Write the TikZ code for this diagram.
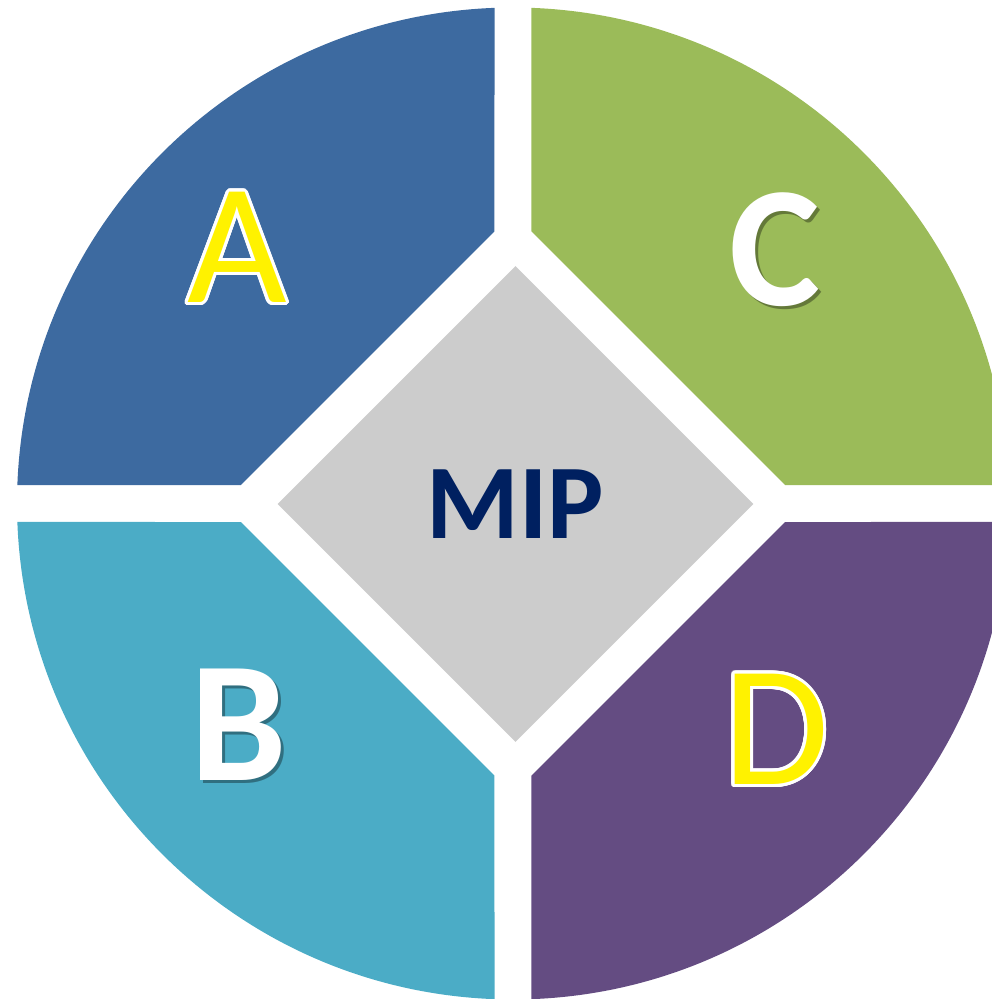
\documentclass[tikz,border=0pt]{standalone}
\usepackage{fontspec}
\setmainfont{Carlito}
\usepackage{contour}
\contourlength{3pt}
\contournumber{32}
\usetikzlibrary{shapes.geometric}
\definecolor{secA}{HTML}{3D6AA0}
\definecolor{secB}{HTML}{4BACC6}
\definecolor{secC}{HTML}{9BBB59}
\definecolor{secD}{HTML}{644C82}
\definecolor{mipgray}{HTML}{CCCCCC}
\definecolor{mipnavy}{HTML}{002060}
\begin{document}
\begin{tikzpicture}[x=1pt,y=1pt,
	letter/.style={font=\fontsize{172}{172}\selectfont,inner sep=0pt},
	boldletter/.style={letter,font=\fontsize{172}{172}\selectfont\bfseries,text=white},
	shade/.style={boldletter,text=black,opacity=0.35}]
\pgfmathsetmacro{\R}{496}
\pgfmathsetmacro{\h}{18.5}
\pgfmathsetmacro{\d}{290.5}
\pgfmathsetmacro{\al}{asin(\h/\R)}

\useasboundingbox (-513,-495.5) rectangle (479,503.5);
\clip (-513,-495.5) rectangle (479,503.5);

\foreach \ang/\col in {0/secC,90/secA,180/secB,270/secD}
{
	\begin{scope}[rotate=\ang]
	\fill[\col] (\d-\h,\h) -- (\al:\R) arc[start angle=\al,end angle=90-\al,radius=\R] -- (\h,\d-\h) -- cycle;
	\end{scope}
}

\node[diamond,fill=mipgray,inner sep=0pt,minimum width=476pt,minimum height=476pt,
	text=mipnavy,font=\fontsize{106}{106}\selectfont\bfseries] (mip) at (2.5,-0.5) {MIP};

\node[letter] (la) at (-276,254.5) {\contour{white}{\textcolor{yellow}{A}}};
\node[shade] at (265,250.5) {C};
\node[boldletter] (lc) at (262,253.5) {C};
\node[shade] at (-271,-224.5) {B};
\node[boldletter] (lb) at (-274,-221.5) {B};
\node[letter] (ld) at (263,-227.5) {\contour{white}{\textcolor{yellow}{D}}};

\end{tikzpicture}
\end{document}
